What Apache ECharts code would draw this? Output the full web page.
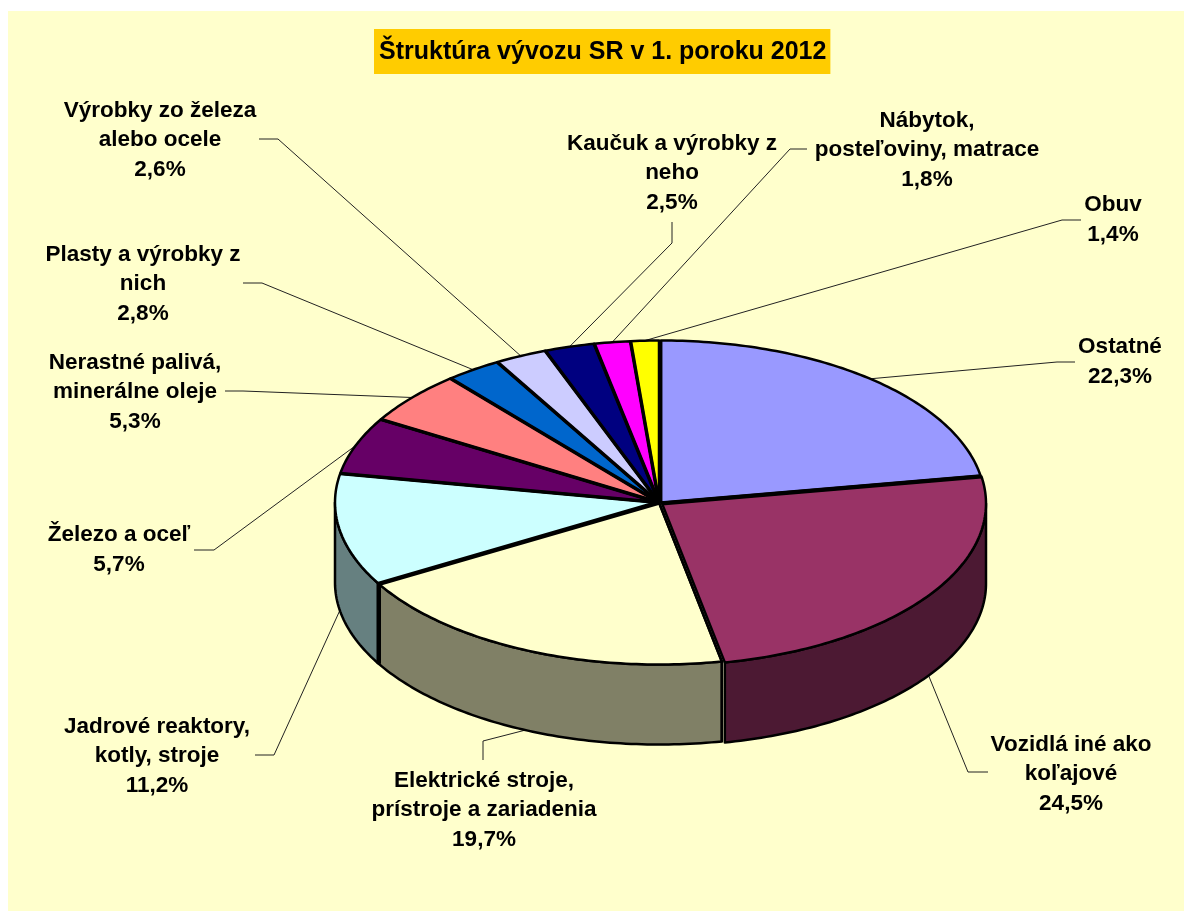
<!DOCTYPE html>
<html>
<head>
<meta charset="utf-8">
<style>html,body{margin:0;padding:0;background:#fff}#c{width:1184px;height:911px}</style>
<script src="https://cdn.jsdelivr.net/npm/echarts@6/dist/echarts.min.js"></script>
</head>
<body>
<div id="c"></div>
<script>
var chartTitle = 'Štruktúra vývozu SR v 1. poroku 2012';
var categories = ['Ostatné','Vozidlá iné ako\nkoľajové','Elektrické stroje,\nprístroje a zariadenia','Jadrové reaktory,\nkotly, stroje','Železo a oceľ','Nerastné palivá,\nminerálne oleje','Plasty a výrobky z\nnich','Výrobky zo železa\nalebo ocele','Kaučuk a výrobky z\nneho','Nábytok,\nposteľoviny, matrace','Obuv'];
var shares = [22.3,24.5,19.7,11.2,5.7,5.3,2.8,2.6,2.5,1.8,1.4];
var topColors = ['#9999FF','#993366','#FFFFCC','#CCFFFF','#660066','#FF8080','#0066CC','#CCCCFF','#000080','#FF00FF','#FFFF00'];
var sideColors = ['#4C4C80','#4C1933','#808066','#668080','#330033','#804040','#003366','#666680','#000040','#800080','#808000'];

// Layout only: label centres, leader elbows and stub ends, slice nudges, edge weights.
var labelCenters = [[1120,362],[1071,774],[484,810],[157,756],[119,550],[135,392],[143,284],[160,140],[672,173],[927,150],[1113,220]];
var elbows = [[1057,362],[968,772],[483,741],[274,755],[214,550],[243,391],[262,283],[278,139],[672,243],[790,149],[1062,220]];
var stubEnds = [[1075,362],[988,772],[483,760],[255,755],[194,550],[225,391],[243,283],[259,139],[672,222],[807,149],[1081,220]];
var nudges = [[2,0],[3,1],[0,0],[0,0],[0,0],[0,0],[0,0],[0,0],[0,0],[0,0],[0,0]];
var edgeWidths = [2.5,4,2.5,4.5,3.5,3.5,3.5,3.5,3.5,3.5,3.5];
var pie = {cx:659, cy:502.5, rx:324, ry:162, depth:80};

var total = shares.reduce(function(a,b){return a+b;},0);
function startAngle(i){var s=0;for(var k=0;k<i;k++)s+=shares[k];return s/total*Math.PI*2;}
function pt(a,i,dz){return [pie.cx+nudges[i][0]+pie.rx*Math.sin(a), pie.cy+nudges[i][1]-pie.ry*Math.cos(a)+(dz||0)];}
function arc(a0,a1,i,dz){var n=Math.max(2,Math.ceil((a1-a0)*60)),r=[];for(var k=0;k<=n;k++)r.push(pt(a0+(a1-a0)*k/n,i,dz));return r;}
function pct(v){return v.toFixed(1).replace('.',',')+'%';}

var seriesData = shares.map(function(v,i){return {value:[v],name:categories[i]};});

var chart = echarts.init(document.getElementById('c'));
chart.setOption({
  animation:false,
  backgroundColor:'#ffffff',
  title:{text:chartTitle,left:374,top:29,padding:[9,4,8,5],backgroundColor:'#FFCC00',
    textStyle:{fontFamily:'Liberation Sans',fontWeight:'bold',fontSize:25,color:'#000',lineHeight:28}},
  graphic:[{type:'rect',z:-10,silent:true,shape:{x:8,y:11,width:1176,height:900},style:{fill:'#FFFFCC'}}],
  series:[
    {type:'custom',coordinateSystem:'none',z:1,silent:true,data:seriesData,
     renderItem:function(p,api){
       var i=p.dataIndex,a=startAngle(i)+api.value(0)/total*Math.PI,anchorDz=(a>Math.PI/2&&a<Math.PI*1.5)?pie.depth:0;
       return {type:'polyline',shape:{points:[pt(a,i,anchorDz),elbows[i],stubEnds[i]]},style:{fill:null,stroke:'#222',lineWidth:1}};
     }},
    {type:'custom',coordinateSystem:'none',z:2,silent:true,data:seriesData,
     renderItem:function(p,api){
       var i=p.dataIndex,a0=Math.max(startAngle(i),Math.PI/2),a1=Math.min(startAngle(i)+api.value(0)/total*Math.PI*2,Math.PI*1.5);
       if(a1<=a0)return null;
       return {type:'polygon',shape:{points:arc(a0,a1,i,0).concat(arc(a0,a1,i,pie.depth).reverse())},
         style:{fill:sideColors[i],stroke:'#000',lineWidth:2.5,lineJoin:'round'}};
     }},
    {type:'custom',coordinateSystem:'none',z:3,silent:true,data:seriesData,
     renderItem:function(p,api){
       var i=p.dataIndex,a0=startAngle(i),a1=a0+api.value(0)/total*Math.PI*2;
       var c=[pie.cx+nudges[i][0],pie.cy+nudges[i][1]];
       return {type:'polygon',shape:{points:[c].concat(arc(a0,a1,i,0))},
         style:{fill:topColors[i],stroke:'#000',lineWidth:2.5,lineJoin:'round'}};
     }},
    {type:'custom',coordinateSystem:'none',z:4,silent:true,data:seriesData,
     renderItem:function(p,api){
       var i=p.dataIndex,a0=startAngle(i);
       var c=[pie.cx+nudges[i][0],pie.cy+nudges[i][1]],e=pt(a0,i,0);
       var pts=[c,e];
       if(a0>Math.PI/2&&a0<Math.PI*1.5)pts.push(pt(a0,i,pie.depth));
       return {type:'polyline',shape:{points:pts},style:{fill:null,stroke:'#000',lineWidth:edgeWidths[i],lineJoin:'round'}};
     }},
    {type:'custom',coordinateSystem:'none',z:5,silent:true,data:seriesData,
     renderItem:function(p,api){
       var i=p.dataIndex;
       return {type:'text',style:{text:categories[i]+'\n'+pct(api.value(0)),x:labelCenters[i][0],y:labelCenters[i][1],
         align:'center',verticalAlign:'middle',fill:'#000',font:'bold 22.5px "Liberation Sans"',lineHeight:29.6}};
     }}
  ]
});
</script>
</body>
</html>
